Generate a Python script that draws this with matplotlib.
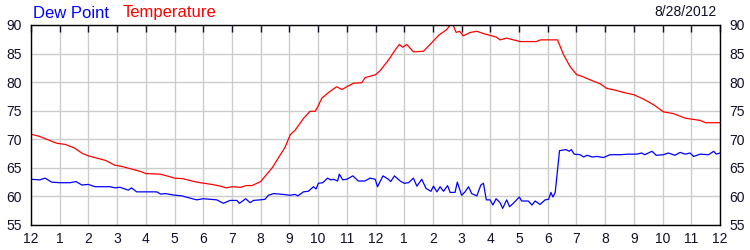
import matplotlib
matplotlib.use("Agg")
import matplotlib.pyplot as plt

# hours since midnight
temp_hours = [0, 0.3, 0.6, 0.9, 1.2, 1.5, 1.8, 2.0, 2.3, 2.6, 2.9, 3.2, 3.5, 3.8, 4.0, 4.5,
              4.8, 5.0, 5.3, 5.6, 5.9, 6.3, 6.6, 6.8, 7.0, 7.3, 7.5, 7.7, 8.0, 8.15, 8.4,
              8.6, 8.85, 9.03, 9.2, 9.5, 9.72, 9.9, 10.0, 10.13, 10.25, 10.42, 10.65, 10.83,
              11.0, 11.23, 11.52, 11.64, 12.0, 12.16, 12.5, 12.68, 12.83, 12.95, 13.09, 13.32,
              13.67, 13.96, 14.2, 14.48, 14.6, 14.7, 14.81, 14.93, 15.06, 15.3, 15.53, 15.76,
              16.2, 16.34, 16.57, 17.04, 17.6, 17.75, 18.34, 18.55, 18.78, 19.01, 19.2, 19.48,
              19.83, 20.06, 20.35, 20.64, 21.0, 21.35, 21.7, 22.03, 22.37, 22.79, 23.31, 23.5, 24.0]
temperature = [70.9, 70.5, 69.9, 69.3, 69.1, 68.5, 67.5, 67.1, 66.7, 66.3, 65.5, 65.2, 64.8, 64.4,
               64.0, 63.9, 63.5, 63.2, 63.1, 62.7, 62.4, 62.1, 61.8, 61.5, 61.7, 61.6, 61.9, 61.9,
               62.6, 63.5, 65.0, 66.6, 68.6, 70.8, 71.6, 73.7, 74.9, 74.9, 75.8, 77.2, 77.7, 78.4,
               79.2, 78.7, 79.2, 79.8, 79.9, 80.8, 81.3, 82.0, 84.2, 85.6, 86.6, 86.1, 86.6, 85.3,
               85.4, 86.9, 88.2, 89.2, 90.0, 90.0, 88.7, 88.9, 88.1, 88.7, 88.9, 88.5, 87.9, 87.4,
               87.7, 87.1, 87.1, 87.4, 87.4, 84.8, 82.7, 81.3, 81.0, 80.4, 79.7, 78.9, 78.6, 78.2,
               77.8, 77.0, 76.0, 74.8, 74.5, 73.7, 73.3, 72.9, 72.9]

dew_hours = [0, 0.31, 0.49, 0.72, 1.01, 1.36, 1.57, 1.77, 2.0, 2.23, 2.75, 2.93, 3.1, 3.39, 3.5,
             3.68, 3.97, 4.38, 4.52, 4.67, 4.96, 5.25, 5.54, 5.77, 6.0, 6.47, 6.7, 6.93, 7.17,
             7.26, 7.48, 7.63, 7.75, 7.98, 8.15, 8.27, 8.45, 8.79, 9.02, 9.2, 9.3, 9.49, 9.66,
             9.84, 9.93, 10.01, 10.16, 10.33, 10.44, 10.54, 10.68, 10.74, 10.86, 11.0, 11.21,
             11.4, 11.63, 11.81, 11.99, 12.07, 12.26, 12.45, 12.53, 12.66, 12.86, 13.0, 13.15,
             13.32, 13.44, 13.61, 13.76, 13.93, 14.02, 14.14, 14.25, 14.37, 14.51, 14.6, 14.77,
             14.85, 15.0, 15.12, 15.24, 15.35, 15.53, 15.67, 15.76, 15.86, 15.99, 16.09, 16.2,
             16.34, 16.43, 16.57, 16.67, 16.8, 17.01, 17.09, 17.32, 17.45, 17.56, 17.73, 17.91,
             18.03, 18.11, 18.18, 18.26, 18.41, 18.63, 18.75, 18.82, 18.92, 19.13, 19.25, 19.37,
             19.55, 19.71, 19.94, 20.17, 20.52, 20.81, 21.1, 21.27, 21.38, 21.63, 21.78, 22.03,
             22.2, 22.43, 22.61, 22.79, 22.96, 23.08, 23.31, 23.6, 23.78, 23.87, 24.0]
dew_point = [63.0, 62.9, 63.2, 62.5, 62.4, 62.4, 62.6, 62.0, 62.1, 61.7, 61.7, 61.5, 61.6, 61.1,
             61.5, 60.8, 60.8, 60.8, 60.4, 60.5, 60.25, 60.1, 59.7, 59.4, 59.6, 59.4, 58.8, 59.3,
             59.3, 58.8, 59.6, 58.9, 59.3, 59.4, 59.5, 60.2, 60.5, 60.35, 60.2, 60.35, 60.1, 60.8,
             60.9, 61.7, 61.3, 62.3, 62.4, 63.2, 62.9, 63.0, 62.7, 63.9, 62.9, 63.0, 63.6, 62.7,
             62.7, 63.2, 63.0, 61.7, 63.6, 63.0, 62.6, 63.6, 62.7, 62.3, 62.4, 63.2, 61.8, 63.0,
             61.4, 60.9, 61.8, 60.8, 61.7, 60.9, 61.9, 60.7, 60.7, 62.5, 60.2, 60.8, 61.7, 60.5,
             60.1, 62.0, 62.3, 59.4, 59.4, 58.5, 59.6, 58.9, 57.9, 59.4, 58.2, 58.8, 59.9, 59.2,
             59.2, 58.5, 59.2, 58.6, 59.4, 59.5, 60.7, 59.9, 60.7, 68.0, 68.2, 67.9, 68.2, 67.4,
             67.3, 66.9, 67.2, 66.9, 67.0, 66.8, 67.3, 67.3, 67.4, 67.4, 67.6, 67.3, 67.9, 67.2,
             67.3, 67.6, 67.2, 67.7, 67.4, 67.6, 67.0, 67.4, 67.3, 67.9, 67.4, 67.6]

hour_labels = ["12", "1", "2", "3", "4", "5", "6", "7", "8", "9", "10", "11",
               "12", "1", "2", "3", "4", "5", "6", "7", "8", "9", "10", "11", "12"]
date_text = "8/28/2012"

plt.rcParams['font.family'] = ['Liberation Sans', 'DejaVu Sans']
label_col = '#101028'

fig = plt.figure(figsize=(7.5, 2.5), dpi=100)
ax = fig.add_axes([31 / 750, 0.1, 689 / 750, 0.8])

ax.plot(temp_hours, temperature, color='#ff0000', lw=0.9)
ax.plot(dew_hours, dew_point, color='#0000ff', lw=0.9)

ax.set_xlim(0, 24)
ax.set_ylim(55, 90)
ax.set_xticks(range(25))
ax.set_xticklabels(hour_labels)
ax.set_yticks(range(55, 91, 5))
ax.grid(True, color='#cccccc', lw=1.0)
ax.set_axisbelow(True)

for s in ax.spines.values():
    s.set_color('black')
    s.set_linewidth(1.0)

ax.tick_params(axis='x', which='both', top=True, bottom=False, direction='in',
               length=5, width=1, labelsize=10, colors=label_col, pad=5)
ax.tick_params(axis='y', left=False, right=False, labelleft=True, labelright=True,
               labelsize=10, colors=label_col, pad=3)

fig.text(33 / 750, 1 - 13 / 250, "Dew Point", color='#0000ff', fontsize=12, va='center', ha='left')
fig.text(123 / 750, 1 - 13 / 250, "Temperature", color='#ff0000', fontsize=12, va='center', ha='left')
fig.text(717 / 750, 1 - 12 / 250, date_text, color=label_col, fontsize=10, va='center', ha='right')

fig.savefig("out.png", dpi=100)
